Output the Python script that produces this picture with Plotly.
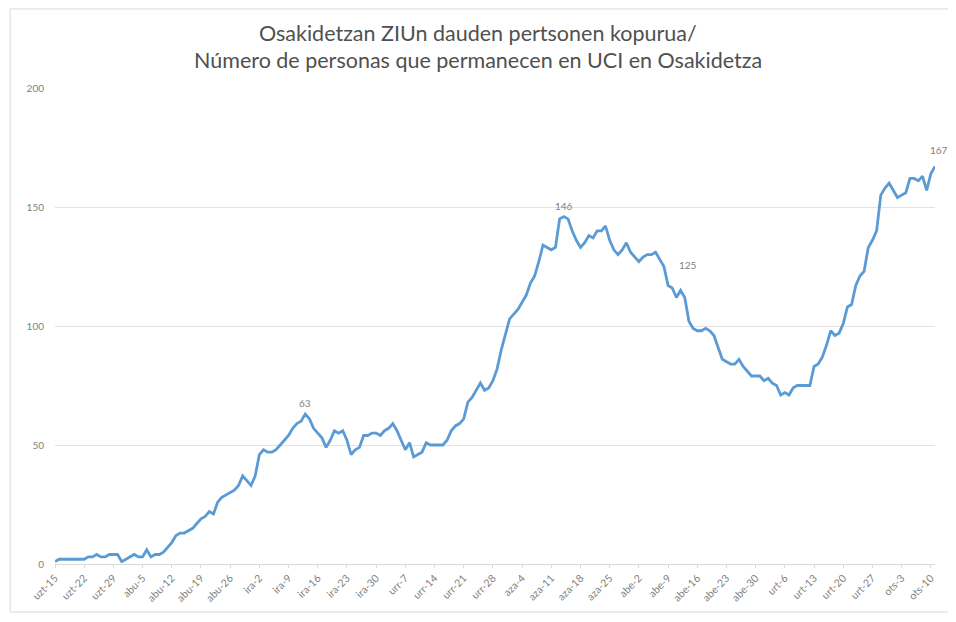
import datetime as dt
import plotly.graph_objects as go

start_date = "2020-07-15"
icu_values = [
    1, 2, 2, 2, 2, 2, 2, 2, 3, 3, 4, 3, 3, 4, 4, 4, 1, 2, 3, 4,
    3, 3, 6, 3, 4, 4, 5, 7, 9, 12, 13, 13, 14, 15, 17, 19, 20, 22, 21, 26,
    28, 29, 30, 31, 33, 37, 35, 33, 37, 46, 48, 47, 47, 48, 50, 52, 54, 57, 59, 60,
    63, 61, 57, 55, 53, 49, 52, 56, 55, 56, 52, 46, 48, 49, 54, 54, 55, 55, 54, 56,
    57, 59, 56, 52, 48, 51, 45, 46, 47, 51, 50, 50, 50, 50, 52, 56, 58, 59, 61, 68,
    70, 73, 76, 73, 74, 77, 82, 90, 97, 103, 105, 107, 110, 113, 118, 121, 127, 134, 133, 132,
    133, 145, 146, 145, 140, 136, 133, 135, 138, 137, 140, 140, 142, 136, 132, 130, 132, 135, 131, 129,
    127, 129, 130, 130, 131, 128, 125, 117, 116, 112, 115, 112, 102, 99, 98, 98, 99, 98, 96, 91,
    86, 85, 84, 84, 86, 83, 81, 79, 79, 79, 77, 78, 76, 75, 71, 72, 71, 74, 75, 75,
    75, 75, 83, 84, 87, 92, 98, 96, 97, 101, 108, 109, 117, 121, 123, 133, 136, 140, 155, 158,
    160, 157, 154, 155, 156, 162, 162, 161, 163, 157, 164, 167,
]
tick_labels = [
    "uzt-15", "uzt-22", "uzt-29", "abu-5", "abu-12", "abu-19", "abu-26",
    "ira-2", "ira-9", "ira-16", "ira-23", "ira-30", "urr-7", "urr-14",
    "urr-21", "urr-28", "aza-4", "aza-11", "aza-18", "aza-25", "abe-2",
    "abe-9", "abe-16", "abe-23", "abe-30", "urt-6", "urt-13", "urt-20",
    "urt-27", "ots-3", "ots-10",
]
title_lines = [
    "Osakidetzan ZIUn dauden pertsonen kopurua/",
    "Número de personas que permanecen en UCI en Osakidetza",
]
labelled_points = [60, 122, 146, len(icu_values) - 1]

d0 = dt.date.fromisoformat(start_date)
dates = [d0 + dt.timedelta(days=i) for i in range(len(icu_values))]
tick_dates = [d0 + dt.timedelta(days=7 * i) for i in range(len(tick_labels))]

fig = go.Figure()
fig.add_trace(go.Scatter(
    x=dates, y=icu_values, mode="lines",
    line=dict(color="#5b9bd5", width=2.8),
    hoverinfo="x+y", showlegend=False,
))

shifts = {60: (0, 11), 122: (0, 11), 146: (24, 2), len(icu_values) - 1: (4, 17)}
for i in labelled_points:
    xs, ys = shifts[i]
    fig.add_annotation(
        x=dates[i], y=icu_values[i], text=str(icu_values[i]),
        showarrow=False, xshift=xs, yshift=ys,
        font=dict(family="Lato, Carlito, sans-serif", size=10, color="#7f7f7f"),
    )

# two-line chart title
for line, ypos in zip(title_lines, [1.1155, 1.0588]):
    fig.add_annotation(
        x=0.481, y=ypos, xref="paper", yref="paper", text=line,
        showarrow=False, xanchor="center", yanchor="middle",
        font=dict(family="Lato, Carlito, sans-serif", size=21.5, color="#505050"),
    )

# outer chart border (page body has an 8px margin, figure sized accordingly)
fig.add_shape(type="rect", xref="paper", yref="paper",
              x0=-0.051, x1=1.017, y0=-0.101, y1=1.166,
              line=dict(color="#d9d9d9", width=1), fillcolor="rgba(0,0,0,0)", layer="below")

fig.update_layout(
    width=948, height=614,
    margin=dict(l=47, r=21, t=80, b=58),
    paper_bgcolor="white", plot_bgcolor="white",
    font=dict(family="Lato, Carlito, sans-serif", color="#7f7f7f"),
)
fig.update_xaxes(
    range=[dates[0], dates[-1]],
    tickmode="array", tickvals=tick_dates, ticktext=tick_labels,
    tickangle=-45, tickfont=dict(size=10.5, color="#7f7f7f"),
    showgrid=False, showline=True, linecolor="#d9d9d9", linewidth=1,
    ticks="outside", ticklen=3, tickcolor="#d9d9d9", zeroline=False,
)
fig.update_yaxes(
    range=[0, 200], tickvals=[0, 50, 100, 150, 200],
    tickfont=dict(size=10, color="#7f7f7f"),
    showgrid=True, gridcolor="#e3e3e3", gridwidth=1,
    zeroline=False, showline=False, ticks="", ticklabelstandoff=10,
)

fig.write_html("out.html")
